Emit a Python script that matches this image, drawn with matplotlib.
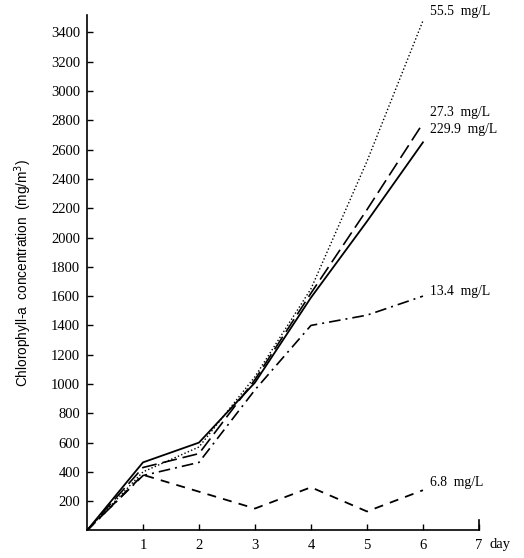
import matplotlib
matplotlib.use("Agg")
import matplotlib.pyplot as plt

plt.rcParams["font.family"] = "Liberation Serif"

days = [0, 1, 2, 3, 4, 5, 6]
labels = ["55.5  mg/L", "27.3  mg/L", "229.9  mg/L", "13.4  mg/L", "6.8  mg/L"]
chl_555 = [0, 400, 570, 1050, 1650, 2520, 3480]
chl_273 = [0, 430, 525, 1030, 1620, 2190, 2780]
chl_2299 = [0, 465, 600, 1010, 1590, 2110, 2650]
chl_134 = [0, 375, 465, 960, 1400, 1470, 1600]
chl_68 = [0, 380, 265, 150, 295, 130, 275]
label_y = [3545, 2855, 2740, 1630, 325]

fig = plt.figure(figsize=(5.24, 5.58), dpi=100)
ax = fig.add_axes([0.166, 0.0493, 0.748, 0.924])

ax.plot(days, chl_555, color="black", lw=1.0, dashes=(1, 1.6))
ax.plot(days, chl_273, color="black", lw=1.2, dashes=(9, 3.5))
ax.plot(days, chl_2299, color="black", lw=1.3)
ax.plot(days, chl_134, color="black", lw=1.2, dashes=(7, 3, 1.2, 3))
ax.plot(days, chl_68, color="black", lw=1.3, dashes=(5, 4))

for lab, yv in zip(labels, label_y):
    ax.text(6.13, yv, lab, fontsize=9.8, va="center", ha="left", clip_on=False)

ax.set_xlim(0, 7)
ax.set_ylim(0, 3520)
ax.set_xticks([1, 2, 3, 4, 5, 6, 7])
ax.set_yticks(range(200, 3401, 200))
ax.spines["top"].set_visible(False)
ax.spines["right"].set_visible(False)
ax.spines["left"].set_linewidth(1.2)
ax.spines["bottom"].set_linewidth(1.2)
ax.tick_params(direction="in", length=4, width=1, labelsize=10.5)
ax.tick_params(axis="x", pad=6)
ax.tick_params(axis="y", pad=5)
ax.plot([7, 7], [0, 75], color="black", lw=1.2, clip_on=False)

ax.text(7.18, -0.015, "day", transform=ax.get_xaxis_transform(), fontsize=10.5,
        ha="left", va="top")
ax.set_ylabel("Chlorophyll-a  concentration  (mg/m$^3$)", fontsize=9.8,
              family="Liberation Sans")
ax.yaxis.set_label_coords(-0.135, 0.5)

fig.savefig("out.png", dpi=100)
